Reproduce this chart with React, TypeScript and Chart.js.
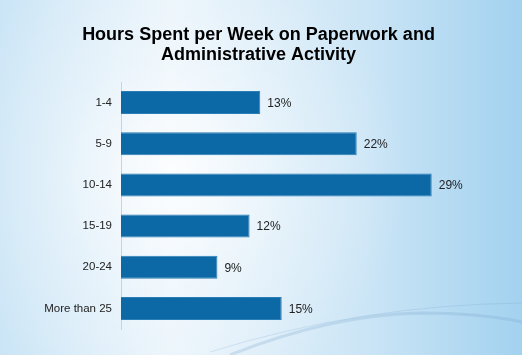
import React, { useEffect, useRef } from "react";
import { Chart, registerables } from "chart.js";

Chart.register(...registerables);

const titleLines = ["Hours Spent per Week on Paperwork and", "Administrative Activity"];
const categories = ["1-4", "5-9", "10-14", "15-19", "20-24", "More than 25"];
const percentValues = [13, 22, 29, 12, 9, 15];

const backgroundPlugin = {
  id: "bgPaint",
  beforeDraw(chart: any) {
    const { ctx, width, height } = chart;
    ctx.save();
    const lin = ctx.createLinearGradient(0, 0, width, 0);
    lin.addColorStop(0, "#cbe5f6");
    lin.addColorStop(0.33, "#eaf4fb");
    lin.addColorStop(0.7, "#cbe5f6");
    lin.addColorStop(1, "#a3d2ef");
    ctx.fillStyle = lin;
    ctx.fillRect(0, 0, width, height);
    const rad = ctx.createRadialGradient(width * 0.33, height * 0.5, 10, width * 0.33, height * 0.5, width * 0.45);
    rad.addColorStop(0, "rgba(255,255,255,0.8)");
    rad.addColorStop(0.5, "rgba(255,255,255,0.3)");
    rad.addColorStop(1, "rgba(255,255,255,0)");
    ctx.fillStyle = rad;
    ctx.fillRect(0, 0, width, height);
    // faint swoosh
    ctx.strokeStyle = "rgba(110,160,200,0.22)";
    ctx.lineWidth = 1;
    ctx.beginPath();
    ctx.moveTo(210, 352);
    ctx.quadraticCurveTo(360, 305, 522, 303);
    ctx.stroke();
    ctx.strokeStyle = "rgba(120,165,205,0.25)";
    ctx.lineWidth = 3;
    ctx.beginPath();
    ctx.moveTo(230, 355);
    ctx.quadraticCurveTo(330, 315, 420, 313);
    ctx.quadraticCurveTo(480, 313, 522, 322);
    ctx.stroke();
    ctx.restore();
  },
};

const titlePlugin = {
  id: "customTitle",
  afterDraw(chart: any) {
    const { ctx } = chart;
    ctx.save();
    ctx.font = "bold 18px 'Liberation Sans', Arial, sans-serif";
    ctx.fillStyle = "#000000";
    ctx.textAlign = "center";
    ctx.textBaseline = "middle";
    titleLines.forEach((line, i) => {
      ctx.fillText(line, 258.5, 35 + i * 20);
    });
    ctx.restore();
  },
};

const valueLabelPlugin = {
  id: "valueLabels",
  afterDatasetsDraw(chart: any) {
    const { ctx } = chart;
    const meta = chart.getDatasetMeta(0);
    ctx.save();
    ctx.font = "12px 'Liberation Sans', Arial, sans-serif";
    ctx.fillStyle = "#222222";
    ctx.textAlign = "left";
    ctx.textBaseline = "middle";
    meta.data.forEach((bar: any, i: number) => {
      ctx.fillText(percentValues[i] + "%", bar.x + 7, bar.y + 1);
    });
    ctx.restore();
  },
};

export default function App() {
  const canvasRef = useRef<HTMLCanvasElement | null>(null);

  useEffect(() => {
    if (!canvasRef.current) return;
    const chart = new Chart(canvasRef.current, {
      type: "bar",
      data: {
        labels: categories,
        datasets: [
          {
            data: percentValues,
            backgroundColor: "#0c69a6",
            borderColor: "#2a7db5",
            borderWidth: 1,
            categoryPercentage: 1,
            barPercentage: 0.56,
          },
        ],
      },
      options: {
        indexAxis: "y",
        animation: false,
        responsive: false,
        maintainAspectRatio: false,
        layout: { padding: { top: 82, bottom: 26, left: 0, right: 26 } },
        plugins: {
          legend: { display: false },
          tooltip: { enabled: false },
          title: { display: false },
        },
        scales: {
          x: {
            display: false,
            min: 0,
            max: 35,
          },
          y: {
            grid: { display: false, drawTicks: false },
            border: { display: true, color: "#c9d3dc", width: 1 },
            ticks: {
              color: "#222222",
              padding: 9,
              font: { family: "'Liberation Sans', Arial, sans-serif", size: 11.5 },
            },
            afterFit(axis: any) {
              axis.width = 121;
            },
          },
        },
      },
      plugins: [backgroundPlugin, valueLabelPlugin, titlePlugin],
    });
    return () => chart.destroy();
  }, []);

  return (
    <div style={{ position: "absolute", left: 0, top: 0, width: 522, height: 355 }}>
      <canvas ref={canvasRef} width={522} height={355} style={{ display: "block" }} />
    </div>
  );
}
